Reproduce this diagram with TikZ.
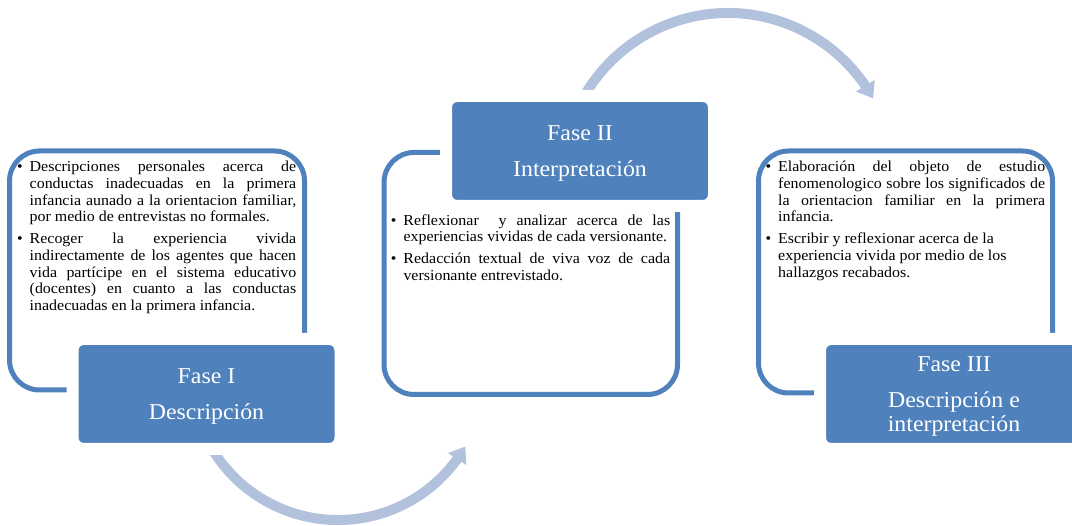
\documentclass[tikz,border=0pt]{standalone}
\usepackage{fontspec}
\setmainfont{Liberation Serif}[FakeStretch=1.05]
\usetikzlibrary{arrows.meta,bending}
\definecolor{phaseblue}{RGB}{79,129,189}
\definecolor{arrowblue}{RGB}{178,193,220}
\newcommand\bul{\leavevmode\rule{0pt}{12pt}\llap{•\hspace{7pt}}}
\newcommand\phtop{\rule{0pt}{19.6pt}}
\begin{document}
\begin{tikzpicture}[x=1pt,y=1pt,
  panel/.style={draw=phaseblue,line width=5pt,rounded corners=30pt,inner sep=0pt},
  body/.style={anchor=north west,inner sep=0pt,text width=#1,align=justify,
    font=\fontsize{15.2}{16.7}\selectfont,
    execute at begin node={\parskip=5pt\parindent=0pt\lineskiplimit=-50pt\hyphenpenalty=10000}},
  phase/.style={fill=phaseblue,draw=white,line width=12pt,rounded corners=11pt,
    minimum width=268pt,minimum height=110pt,inner sep=0pt,text=white,align=center,
    font=\fontsize{22.7}{24}\selectfont,
    execute at begin node={\lineskiplimit=-50pt}},
  flow/.style={draw=arrowblue,line width=10pt,-{Triangle[width=21pt,length=15pt]}}]
\useasboundingbox (0,0) rectangle (1072,526);

% panels
\node[panel,minimum width=295pt,minimum height=239pt] (p1) at (157,255.5) {};
\node[panel,minimum width=293.5pt,minimum height=242pt] (p2) at (530.75,252.5) {};
\node[panel,minimum width=294pt,minimum height=242pt] (p3) at (905.5,254) {};

% arrows
\coordinate (c1) at (728,347);
\coordinate (c2) at (338,153);
\path (c2) ++(205:147) coordinate (a2s);
\draw[flow] (a2s) arc[start angle=205,end angle=330,radius=147];
\path (c1) ++(155:166) coordinate (a1s);
\draw[flow] (a1s) arc[start angle=155,end angle=29,radius=166];

% texts
\node[body=266.5pt] (t1) at (29.5,366.3) {%
\bul Descripciones personales acerca de\break conductas inadecuadas en la primera\break infancia aunado a la orientacion familiar,\break por medio de entrevistas no formales.\par
\bul Recoger la experiencia vivida\break indirectamente de los agentes que hacen\break vida partícipe en el sistema educativo\break (docentes) en cuanto a las conductas\break inadecuadas en la primera infancia.};

\node[body=266.7pt] (t2) at (403.3,313) {%
\bul Reflexionar\ \ y analizar acerca de las\break experiencias vividas de cada versionante.\par
\bul Redacción textual de viva voz de cada\break versionante entrevistado.};

\node[body=267pt] (t3) at (778,366.3) {%
\bul Elaboración del objeto de estudio\break fenomenologico sobre los significados de\break la orientacion familiar en la primera\break infancia.\par
\bul Escribir y reflexionar acerca de la\hfil\break experiencia vivida por medio de los\hfil\break hallazgos recabados.};

% phase boxes
\node[phase] (f1) at (206.5,132) {\phtop Fase I\\[11.3pt]Descripción};
\node[phase] (f2) at (580,375) {\phtop Fase II\\[11.3pt]Interpretación};
\node[phase] (f3) at (954,132) {\phtop Fase III\\[11.5pt]Descripción e\\interpretación};
\end{tikzpicture}
\end{document}
